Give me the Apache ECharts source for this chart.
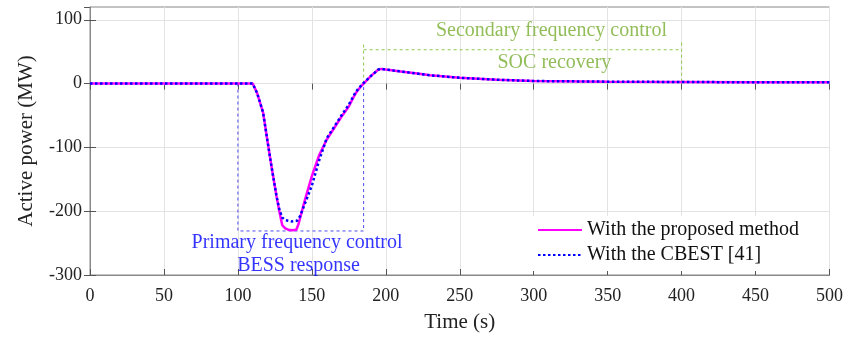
<!DOCTYPE html>
<html><head><meta charset="utf-8">
<script src="https://cdn.jsdelivr.net/npm/echarts@6/dist/echarts.min.js"></script>
<style>html,body{margin:0;padding:0;background:#fff}#c{width:846px;height:338px}</style>
</head><body><div id="c"></div>
<script>
const timeProposed = [0,100,110,113,117,120,123,126,128,130,132,134,137,139.5,141,145,150,155,160,165,170,175,178,180,183,185,190,195,197,200,210,220,230,250,275,300,350,400,450,500];
const powerProposed = [0,0,0,-15,-45,-90,-134,-175,-200,-222,-227,-229,-230,-229,-220,-185,-145,-112,-88,-70,-52,-36,-22,-14,-5,0,12,22,23,22,19,16,13,9,6,4,3,2.5,2,2];
const timeCBEST = [0,100,110,113,117,120,123,126,128,130,132,136,140,142,145,150,155,160,165,170,175,178,180,183,185,190,195,197,200,210,220,230,250,275,300,350,400,450,500];
const powerCBEST = [0,0,0,-15,-45,-90,-134,-175,-197,-210,-214,-216,-215,-208,-190,-160,-120,-86,-68,-50,-33,-20,-12,-4,1,12,22,23,22,19,16,13,9,6,4,3,2.5,2,2];
const xTicks = [0,50,100,150,200,250,300,350,400,450,500];
const yTicks = [-300,-200,-100,0,100];
const seriesNames = ['With the proposed method','With the CBEST [41]'];
const primaryBox = [[100,0],[100,-231],[185,-231],[185,0]];
const secondaryLeft = [[185,0],[185,64]];
const secondaryTop = [[185,53],[400,53]];
const secondaryRight = [[400,64],[400,0]];

const pair = (t,v) => t.map((x,i)=>[x,v[i]]);
const font = 'Liberation Serif, Times New Roman, serif';
const tickStyle = {show:true,inside:true,length:6,lineStyle:{color:'#555'}};
const chart = echarts.init(document.getElementById('c'));
chart.setOption({
  animation:false,
  grid:{left:90,right:14,top:7,bottom:60,show:true,borderColor:'#888',borderWidth:1},
  xAxis:[{type:'value',min:0,max:500,interval:50,
    name:'Time (s)',nameLocation:'middle',nameGap:37,nameTextStyle:{fontFamily:font,fontSize:21,color:'#222'},
    axisLine:{onZero:false,lineStyle:{color:'#888'}},axisTick:tickStyle,
    axisLabel:{fontFamily:font,fontSize:18,color:'#222',margin:12},
    splitLine:{show:true,lineStyle:{color:'#e3e3e3'}}},
    {type:'value',position:'top',min:0,max:500,interval:50,axisLine:{show:false},axisTick:tickStyle,axisLabel:{show:false},splitLine:{show:false}}],
  yAxis:[{type:'value',min:-300,max:120,interval:100,
    name:'Active power (MW)',nameLocation:'middle',nameGap:53,nameRotate:90,nameTextStyle:{fontFamily:font,fontSize:21,color:'#222'},
    axisLine:{show:true,onZero:false,lineStyle:{color:'#888'}},axisTick:tickStyle,
    axisLabel:{fontFamily:font,fontSize:18,color:'#222',margin:8,showMaxLabel:false},
    splitLine:{show:true,showMaxLine:false,lineStyle:{color:'#e3e3e3'}}},
    {type:'value',position:'right',min:-300,max:120,interval:100,axisLine:{show:false},axisTick:tickStyle,axisLabel:{show:false},splitLine:{show:false}}],
  legend:{show:true,left:532,top:216,orient:'vertical',itemGap:5,itemWidth:44,itemHeight:12,
    padding:[4,30,6,5],
    textStyle:{fontFamily:font,fontSize:20,color:'#111'},backgroundColor:'#fff',
    itemStyle:{opacity:0},
    data:seriesNames},
  series:[
    {type:'line',data:primaryBox,symbol:'none',silent:true,lineStyle:{color:'#4b4bf0',width:1,type:[3,3]},z:1},
    {type:'line',data:secondaryLeft,symbol:'none',silent:true,lineStyle:{color:'#8cc850',width:1,type:[3,3]},z:1},
    {type:'line',data:secondaryTop,symbol:'none',silent:true,lineStyle:{color:'#8cc850',width:1,type:[3,3]},z:1},
    {type:'line',data:secondaryRight,symbol:'none',silent:true,lineStyle:{color:'#8cc850',width:1,type:[3,3]},z:1},
    {name:seriesNames[0],type:'line',data:pair(timeProposed,powerProposed),symbol:'none',lineStyle:{color:'#ff00ff',width:2.5},itemStyle:{color:'#ff00ff'},z:3},
    {name:seriesNames[1],type:'line',data:pair(timeCBEST,powerCBEST),symbol:'none',lineStyle:{color:'#0000ff',width:2.5,type:[2.5,2.5]},itemStyle:{color:'#0000ff'},z:4},
    {type:'scatter',symbolSize:0,silent:true,data:[
      {value:[312,82],label:{show:true,formatter:'Secondary frequency control',color:'#77ac30'}},
      {value:[314,32],label:{show:true,formatter:'SOC recovery',color:'#77ac30'}},
      {value:[140,-250],label:{show:true,formatter:'Primary frequency control',color:'#0000ff'}},
      {value:[141,-285],label:{show:true,formatter:'BESS response',color:'#0000ff'}}
    ],label:{position:'inside',fontFamily:font,fontSize:20}}
  ]
});
</script></body></html>
